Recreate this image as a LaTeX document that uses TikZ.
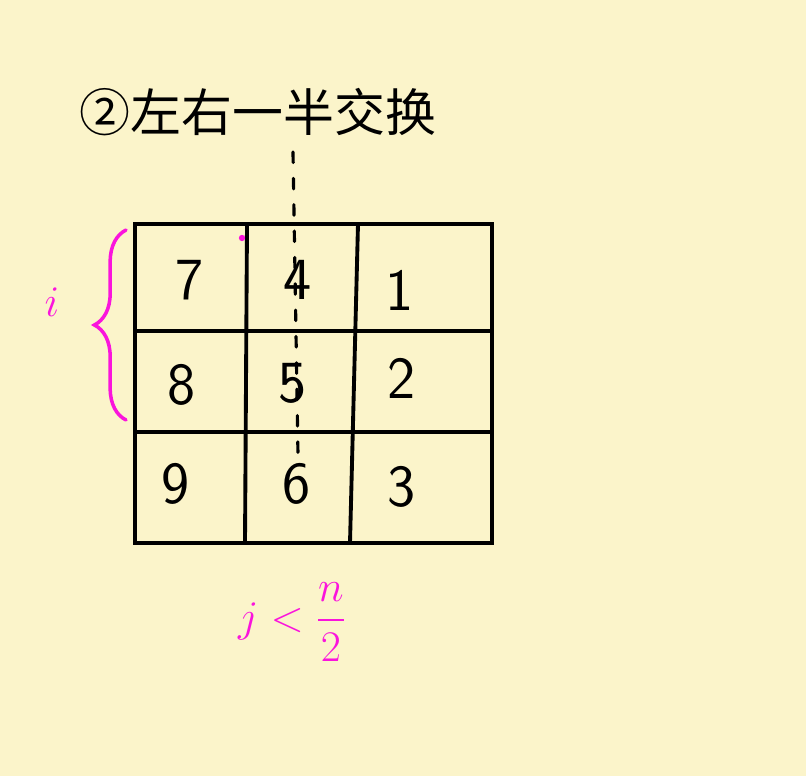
\documentclass[tikz,border=0pt]{standalone}
\usepackage{fontspec}
\usepackage{amsmath}
\newfontfamily\cjk{Noto Sans CJK SC}
\usetikzlibrary{decorations.pathreplacing}
\definecolor{paper}{RGB}{251,244,202}
\definecolor{pink}{RGB}{250,20,220}
\tikzset{>=stealth}
\tikzset{cellnum/.style={font=\sffamily\fontsize{34}{34}\selectfont}}

\begin{document}
\begin{tikzpicture}[x=0.02cm, y=-0.02cm, line cap=round]
		\fill[paper] (0,0) rectangle (806,776);
		\useasboundingbox (0,0) rectangle (806,776);
		\node (title) at (258,112) {\cjk\fontsize{29}{29}\selectfont ②左右一半交换};
		% grid
		\draw[line width=2.2pt] (135,224) rectangle (492,543);
		\draw[line width=2.2pt] (135,331)--(492,331); \draw[line width=2.2pt] (135,432)--(492,432);
		\draw[line width=2.2pt] (247,224)--(245,543); \draw[line width=2.2pt] (358,224)--(350,543);
		\node[cellnum] (n7) at (190,280){7}; \node[cellnum] (n4) at (298,280){4}; \node[cellnum] (n1) at (400,290){1};
		\node[cellnum] (n8) at (182,385){8}; \node[cellnum] (n5) at (293,383){5}; \node[cellnum] (n2) at (402,378){2};
		\node[cellnum] (n9) at (176,484){9}; \node[cellnum] (n6) at (297,484){6}; \node[cellnum] (n3) at (402,487){3};
		% middle axis
		\coordinate (top) at (293,152); \coordinate (bot) at (298,455);
		\draw[line width=1.8pt, dash pattern=on 6pt off 9pt] (top)--(bot);
		% brace and labels
		\coordinate (bl) at (126,420); \coordinate (tl) at (126,230);
		\draw[pink, line width=2pt, decorate, decoration={brace, amplitude=18pt}] (bl)--(tl);
		\node[pink, font=\fontsize{32}{32}\selectfont] (ilabel) at (52,302){$i$};
		\fill[pink] (242,238) circle (1.8pt);
		\node[pink, font=\fontsize{24}{24}\selectfont] (jlabel) at (292,622){$j<\dfrac{n}{2}$};
		\end{tikzpicture}
\end{document}
